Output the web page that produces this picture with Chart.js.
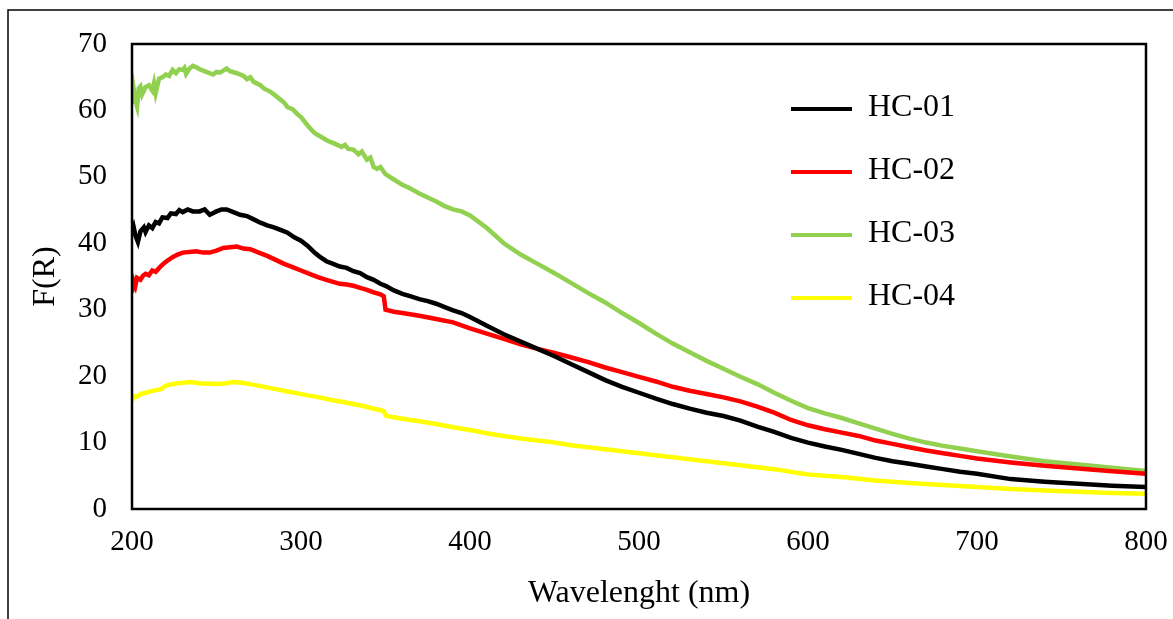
<!DOCTYPE html>
<html>
<head>
<meta charset="utf-8">
<script src="https://cdn.jsdelivr.net/npm/chart.js@4.4.1/dist/chart.umd.min.js"></script>
<style>
  html, body { margin: 0; padding: 0; background: #fff; }
  #wrap { width: 1173px; height: 619px; }
</style>
</head>
<body>
<div id="wrap"><canvas id="myChart" width="1173" height="619"></canvas></div>
<script>
// valores (comprimento de onda em nm, F(R))
const seriesNames = ['HC-01', 'HC-02', 'HC-03', 'HC-04'];
const seriesColors = ['#000000', '#ff0000', '#92d050', '#ffff00'];
const xTicks = [200, 300, 400, 500, 600, 700, 800];
const yTicks = [0, 10, 20, 30, 40, 50, 60, 70];

const hc01_nm = [200, 201, 202, 203.5, 205, 207, 208, 210, 212, 214, 216, 218, 221, 223, 226, 228, 230, 233, 236, 240, 243, 246, 250, 253, 256, 260, 264, 268, 272, 276, 280, 284, 289, 292, 296, 300, 304, 308, 311, 315, 319, 323, 327, 331, 335, 339, 343, 347, 350, 355, 360, 365, 370, 375, 380, 385, 390, 395, 400, 410, 420, 430, 440, 450, 460, 470, 480, 490, 500, 510, 520, 530, 540, 550, 560, 570, 580, 590, 600, 610, 620, 630, 640, 650, 660, 670, 680, 690, 700, 720, 740, 760, 780, 800];
const hc01_FR = [41.6, 42.4, 41.2, 40.2, 41.8, 42.4, 41.7, 42.7, 42.3, 43.2, 43, 43.9, 43.8, 44.5, 44.4, 45, 44.7, 45.1, 44.8, 44.8, 45.1, 44.3, 44.8, 45.1, 45.1, 44.7, 44.3, 44.1, 43.6, 43.1, 42.7, 42.4, 41.9, 41.6, 40.9, 40.4, 39.6, 38.6, 38, 37.3, 36.9, 36.5, 36.3, 35.8, 35.5, 34.9, 34.5, 33.9, 33.6, 32.9, 32.4, 32, 31.6, 31.3, 30.9, 30.4, 29.9, 29.5, 28.9, 27.6, 26.3, 25.2, 24.1, 23, 21.8, 20.6, 19.4, 18.4, 17.5, 16.6, 15.8, 15.1, 14.5, 14, 13.3, 12.4, 11.6, 10.7, 10, 9.4, 8.9, 8.3, 7.7, 7.2, 6.8, 6.4, 6, 5.6, 5.3, 4.5, 4.1, 3.8, 3.5, 3.3];

const hc02_nm = [200, 201, 202, 203, 205, 206.5, 208, 210, 212, 214, 216.5, 219, 221, 224, 227, 230, 234, 238, 242, 246, 250, 254, 258, 262, 266, 270, 275, 280, 285, 290, 295, 300, 305, 310, 315, 319, 323, 327, 331, 335, 339, 343, 347, 349, 350, 355, 360, 370, 380, 390, 400, 410, 420, 430, 440, 450, 460, 470, 480, 490, 500, 510, 520, 530, 540, 550, 560, 570, 580, 590, 600, 610, 620, 630, 640, 650, 660, 670, 680, 690, 700, 720, 740, 760, 780, 800];
const hc02_FR = [32.6, 34.3, 33.6, 34.8, 34.5, 35.1, 35.4, 35.2, 35.9, 35.7, 36.4, 37, 37.4, 37.9, 38.3, 38.6, 38.7, 38.8, 38.6, 38.6, 38.9, 39.3, 39.4, 39.5, 39.2, 39.1, 38.6, 38.1, 37.5, 36.9, 36.4, 35.9, 35.4, 34.9, 34.5, 34.2, 33.9, 33.8, 33.6, 33.3, 33, 32.6, 32.3, 32, 30, 29.7, 29.5, 29.1, 28.6, 28.1, 27.2, 26.4, 25.6, 24.8, 24.1, 23.5, 22.8, 22.1, 21.3, 20.6, 19.9, 19.2, 18.4, 17.8, 17.3, 16.8, 16.2, 15.4, 14.5, 13.4, 12.6, 12, 11.5, 11, 10.3, 9.8, 9.3, 8.8, 8.4, 8, 7.6, 7, 6.5, 6.1, 5.7, 5.3];

const hc03_nm = [200, 201, 202, 203, 204, 205, 206, 208, 210, 212, 213, 214, 216, 218, 220, 222, 224, 226, 228, 230, 231, 232, 234, 236, 238, 240, 244, 248, 250, 252, 254, 256, 258, 262, 266, 268, 270, 272, 276, 278, 282, 286, 290, 292, 295, 298, 300, 304, 308, 312, 316, 320, 324, 326, 328, 331, 334, 336, 339, 341, 343, 345, 347, 350, 355, 360, 365, 370, 375, 380, 385, 390, 395, 400, 410, 420, 430, 440, 450, 460, 470, 480, 490, 500, 510, 520, 530, 540, 550, 560, 570, 580, 590, 600, 610, 620, 630, 640, 650, 660, 670, 680, 690, 700, 720, 740, 760, 780, 800];
const hc03_FR = [61, 63.2, 61.5, 60.6, 63.3, 63.6, 62.4, 63.5, 63.8, 63, 64.1, 62.6, 64.8, 65, 65.4, 65.2, 66.1, 65.6, 66.2, 66.1, 66.4, 65.5, 66.3, 66.7, 66.5, 66.2, 65.8, 65.4, 65.8, 65.7, 66, 66.3, 65.9, 65.6, 65.2, 64.7, 65, 64.3, 63.8, 63.3, 62.8, 62, 61.2, 60.5, 60.2, 59.4, 59, 57.7, 56.6, 56, 55.4, 55, 54.5, 54.8, 54.2, 54.1, 53.4, 53.8, 52.6, 52.9, 51.5, 51.2, 51.5, 50.4, 49.6, 48.8, 48.2, 47.5, 46.9, 46.3, 45.6, 45.1, 44.8, 44.2, 42.3, 40, 38.3, 36.9, 35.5, 34, 32.5, 31.1, 29.5, 28, 26.4, 24.9, 23.6, 22.3, 21.1, 19.9, 18.8, 17.5, 16.3, 15.2, 14.4, 13.7, 12.9, 12.1, 11.3, 10.6, 10, 9.5, 9.1, 8.7, 7.9, 7.2, 6.7, 6.2, 5.7];

const hc04_nm = [200, 201, 203, 205, 208, 211, 214, 217, 219, 222, 226, 230, 235, 240, 245, 250, 255, 260, 265, 270, 276, 282, 288, 292, 298, 304, 311, 318, 325, 331, 337, 343, 347, 349, 350.5, 360, 370, 380, 390, 400, 410, 420, 430, 440, 450, 460, 470, 480, 490, 500, 520, 540, 560, 580, 600, 620, 640, 660, 680, 700, 720, 740, 760, 780, 800];
const hc04_FR = [16.3, 17, 16.9, 17.3, 17.5, 17.7, 17.9, 18, 18.4, 18.7, 18.9, 19, 19.1, 18.9, 18.9, 18.8, 18.9, 19.1, 19, 18.8, 18.5, 18.2, 17.9, 17.7, 17.4, 17.1, 16.8, 16.4, 16.1, 15.8, 15.5, 15.1, 14.9, 14.7, 14, 13.6, 13.2, 12.8, 12.3, 11.9, 11.4, 11, 10.6, 10.3, 10, 9.6, 9.3, 9, 8.7, 8.4, 7.8, 7.2, 6.6, 6, 5.2, 4.8, 4.3, 3.9, 3.6, 3.3, 3, 2.8, 2.6, 2.4, 2.3];

const allNm = [hc01_nm, hc02_nm, hc03_nm, hc04_nm];
const allFR = [hc01_FR, hc02_FR, hc03_FR, hc04_FR];

const fontFamily = '"Liberation Serif", "Times New Roman", serif';

// moldura externa, caixa do grafico e legenda
const framePlugin = {
    id: 'frame',
    beforeDraw(chart) {
        const ctx = chart.ctx;
        ctx.save();
        ctx.fillStyle = '#fff';
        ctx.fillRect(0, 0, chart.width, chart.height);
        ctx.strokeStyle = '#000';
        ctx.lineWidth = 1.5;
        ctx.strokeRect(8, 10, 1300, 800);
        ctx.restore();
    },
    afterDatasetsDraw(chart) {
        const ctx = chart.ctx;
        const a = chart.chartArea;
        ctx.save();
        ctx.strokeStyle = '#000';
        ctx.lineWidth = 2.5;
        ctx.strokeRect(a.left, a.top, a.right - a.left, a.bottom - a.top);

        // legenda
        ctx.font = '32px ' + fontFamily;
        ctx.textBaseline = 'middle';
        ctx.textAlign = 'left';
        chart.data.datasets.forEach((ds, i) => {
            const y = 109 + i * 63;
            ctx.strokeStyle = ds.borderColor;
            ctx.lineWidth = 4;
            ctx.beginPath();
            ctx.moveTo(791, y);
            ctx.lineTo(852, y);
            ctx.stroke();
            ctx.fillStyle = '#000';
            ctx.fillText(ds.label, 868, y - 1);
        });
        ctx.restore();
    }
};

const datasets = seriesNames.map((name, i) => ({
    label: name,
    data: allNm[i].map((x, j) => ({ x: x, y: allFR[i][j] })),
    borderColor: seriesColors[i],
    backgroundColor: seriesColors[i],
    borderWidth: 4.5,
    pointRadius: 0,
    tension: 0,
    fill: false
}));

const ctx = document.getElementById('myChart').getContext('2d');
const myChart = new Chart(ctx, {
    type: 'line',
    data: { datasets: datasets },
    options: {
        responsive: false,
        animation: false,
        devicePixelRatio: 1,
        layout: { padding: { left: 0, top: 44, right: 27, bottom: 0 } },
        plugins: {
            legend: { display: false },
            tooltip: { enabled: false }
        },
        scales: {
            x: {
                type: 'linear',
                min: 200,
                max: 800,
                afterBuildTicks: (scale) => { scale.ticks = xTicks.map(v => ({ value: v })); },
                afterFit: (scale) => {
                    scale.height = 110;
                    scale.paddingLeft = 0;
                    scale.paddingRight = 0;
                },
                grid: { display: false, drawTicks: false },
                border: { display: false },
                ticks: { color: '#000', padding: 16, maxRotation: 0, font: { family: fontFamily, size: 29 } },
                title: { display: true, text: 'Wavelenght (nm)', color: '#000', padding: { top: 0, bottom: 6 }, font: { family: fontFamily, size: 32 } }
            },
            y: {
                type: 'linear',
                min: 0,
                max: 70,
                afterBuildTicks: (scale) => { scale.ticks = yTicks.map(v => ({ value: v })); },
                afterFit: (scale) => {
                    scale.width = 132;
                    scale.paddingTop = 0;
                    scale.paddingBottom = 0;
                },
                grid: { display: false, drawTicks: false },
                border: { display: false },
                ticks: { color: '#000', padding: 25, font: { family: fontFamily, size: 29 } },
                title: { display: true, text: 'F(R)', color: '#000', padding: { top: 26, bottom: 0 }, font: { family: fontFamily, size: 32 } }
            }
        }
    },
    plugins: [framePlugin]
});
</script>
</body>
</html>
